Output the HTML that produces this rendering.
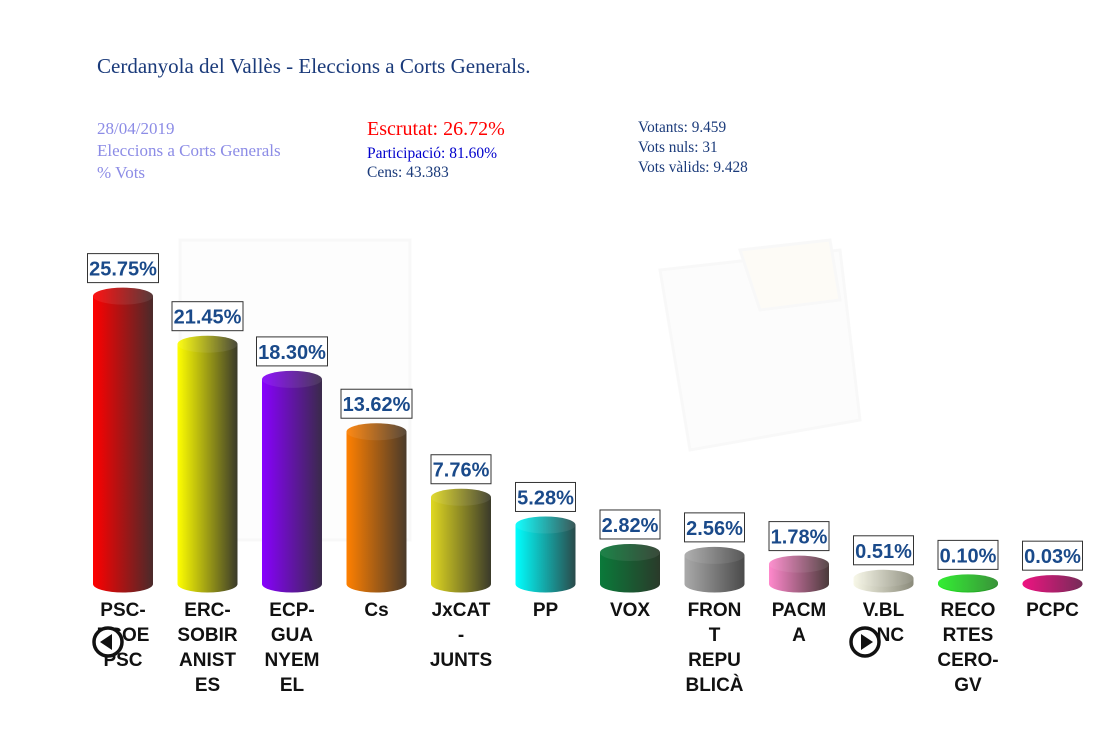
<!DOCTYPE html>
<html><head><meta charset="utf-8"><style>
html,body{margin:0;padding:0;background:#fff;}
body{width:1100px;height:748px;overflow:hidden;position:relative;font-family:"Liberation Serif",serif;}
.t{position:absolute;white-space:nowrap;}
</style></head><body>
<div class="t" style="left:97px;top:54px;font-size:21px;color:#1a3a7a;">Cerdanyola del Vallès - Eleccions a Corts Generals.</div>
<div class="t" style="left:97px;top:118px;font-size:17px;color:#8c8ce6;line-height:22px;">28/04/2019<br>Eleccions a Corts Generals<br>% Vots</div>
<div class="t" style="left:367px;top:118px;font-size:20px;color:#f00;">Escrutat: 26.72%</div>
<div class="t" style="left:367px;top:145px;font-size:15.5px;color:#0000cc;">Participació: 81.60%</div>
<div class="t" style="left:367px;top:164px;font-size:15.5px;color:#1a3a7a;">Cens: 43.383</div>
<div class="t" style="left:638px;top:118px;font-size:15.3px;color:#1a3a7a;line-height:20px;">Votants: 9.459<br>Vots nuls: 31<br>Vots vàlids: 9.428</div>
<svg width="1100" height="748" style="position:absolute;left:0;top:0" xmlns="http://www.w3.org/2000/svg">
<defs id="d"></defs>
<g opacity="0.18" fill="none" stroke="#ddd" stroke-width="3">
<path d="M660 270 L840 250 L860 420 L690 450 Z" fill="#f4f4f4"/>
<path d="M740 250 L830 240 L840 300 L760 310 Z" fill="#f7eed0"/>
<rect x="180" y="240" width="230" height="300" fill="#f6f6f6"/>
</g>
<g id="bars"></g>
<g font-family="Liberation Sans, sans-serif" font-weight="bold" font-size="19" fill="#111" text-anchor="middle" id="labels"></g>
<g stroke="#111" stroke-width="3.5" fill="#fff"><circle cx="108" cy="642" r="14"/><circle cx="865" cy="642" r="14"/></g>
<path d="M100 642 L112 634 L112 650 Z" fill="#111"/><path d="M873 642 L861 634 L861 650 Z" fill="#111"/>
</svg>
<script>
var data=[["25.75%",25.75,"#ff0000","#4a2a2a",["PSC-","PSOE","PSC"]],
["21.45%",21.45,"#ffff00","#3a3a2a",["ERC-","SOBIR","ANIST","ES"]],
["18.30%",18.30,"#8800ff","#3a2a4a",["ECP-","GUA","NYEM","EL"]],
["13.62%",13.62,"#ff8000","#4a3a2a",["Cs"]],
["7.76%",7.76,"#e0d820","#3a3a2a",["JxCAT","-","JUNTS"]],
["5.28%",5.28,"#00ffff","#2a4a4a",["PP"]],
["2.82%",2.82,"#0a7a3a","#2a3a2a",["VOX"]],
["2.56%",2.56,"#aaaaaa","#4a4a4a",["FRON","T","REPU","BLICÀ"]],
["1.78%",1.78,"#ff88cc","#4a3a3a",["PACM","A"]],
["0.51%",0.51,"#f8f8e8","#8a8a7a",["V.BL","ANC"]],
["0.10%",0.10,"#22ee22","#2a8a2a",["RECO","RTES","CERO-","GV"]],
["0.03%",0.03,"#ee0077","#6a1a4a",["PCPC"]]];
var ns="http://www.w3.org/2000/svg",d=document.getElementById("d"),g=document.getElementById("bars"),lg=document.getElementById("labels");
function el(t,a,p){var e=document.createElementNS(ns,t);for(var k in a)e.setAttribute(k,a[k]);(p||g).appendChild(e);return e;}
var base=584,rx=30,ry=8.5;
data.forEach(function(b,i){
var cx=123+i*84.5,top=base-b[1]*11.18;
var lgd=el("linearGradient",{id:"g"+i,x1:"0",x2:"1",y1:"0",y2:"0"},d);
el("stop",{offset:"0","stop-color":b[2]},lgd);el("stop",{offset:"1","stop-color":b[3]},lgd);
el("path",{d:"M"+(cx-rx)+" "+top+" L"+(cx-rx)+" "+base+" A"+rx+" "+ry+" 0 0 0 "+(cx+rx)+" "+base+" L"+(cx+rx)+" "+top+" Z",fill:"url(#g"+i+")"});
el("ellipse",{cx:cx,cy:top,rx:rx,ry:ry,fill:"url(#g"+i+")"});
el("ellipse",{cx:cx,cy:top,rx:rx,ry:ry,fill:"rgba(255,255,255,0.08)"});
var w=b[0].length>5?71:60,by=top-ry-34;
el("rect",{x:cx-w/2,y:by,width:w,height:29,fill:"#fff",stroke:"#333","stroke-width":1});
var t=el("text",{x:cx,y:by+22,"text-anchor":"middle","font-family":"Liberation Sans, sans-serif","font-weight":"bold","font-size":"20",fill:"#1a4a8a"});t.textContent=b[0];
b[4].forEach(function(s,j){var tt=el("text",{x:cx,y:616+j*25},lg);tt.textContent=s;});
});
</script>
</body></html>
